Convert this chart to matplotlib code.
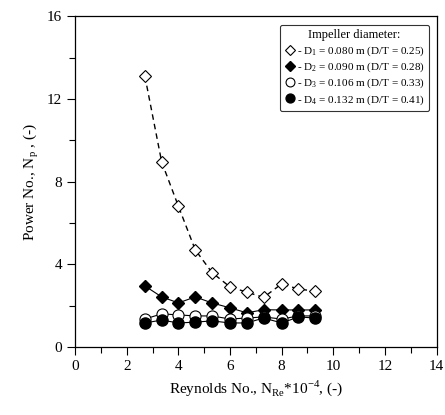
import numpy as np
import matplotlib.pyplot as plt
from matplotlib.ticker import MultipleLocator

plt.rcParams['font.family'] = ['Liberation Serif', 'DejaVu Serif']
plt.rcParams['mathtext.fontset'] = 'custom'
plt.rcParams['mathtext.rm'] = 'Liberation Serif'

# Reynolds No. * 1e-4
re_vals = [2.7, 3.35, 4.0, 4.65, 5.3, 6.0, 6.65, 7.3, 8.0, 8.65, 9.3]

np_d1 = [13.1, 8.95, 6.8, 4.7, 3.6, 2.9, 2.65, 2.4, 3.05, 2.8, 2.7]
np_d2 = [2.95, 2.42, 2.13, 2.42, 2.13, 1.89, 1.65, 1.8, 1.79, 1.79, 1.79]
np_d3 = [1.35, 1.6, 1.55, 1.5, 1.5, 1.35, 1.4, 1.45, 1.35, 1.5, 1.5]
np_d4 = [1.16, 1.3, 1.16, 1.2, 1.26, 1.16, 1.16, 1.4, 1.16, 1.45, 1.4]

labels = ['- D$_1$ = 0.080 m (D/T = 0.25)',
          '- D$_2$ = 0.090 m (D/T = 0.28)',
          '- D$_3$ = 0.106 m (D/T = 0.33)',
          '- D$_4$ = 0.132 m (D/T = 0.41)']

fig = plt.figure(figsize=(4.45, 4.15), dpi=100)
ax = fig.add_axes([0.169, 0.164, 0.812, 0.797])

ax.plot(re_vals, np_d1, ls=(0, (4, 3)), color='black', lw=1.0, marker='D', ms=6,
        mfc='white', mec='black', mew=0.8, label=labels[0])
ax.plot(re_vals, np_d2, ls='-', color='black', lw=0.8, marker='D', ms=6,
        mfc='black', mec='black', label=labels[1])
ax.plot(re_vals, np_d3, ls='-', color='black', lw=0.8, marker='o', ms=8,
        mfc='white', mec='black', mew=0.8, label=labels[2])
ax.plot(re_vals, np_d4, ls='-', color='black', lw=0.8, marker='o', ms=8,
        mfc='black', mec='black', label=labels[3])

ax.set_xlim(0, 14)
ax.set_ylim(0, 16)
ax.xaxis.set_major_locator(MultipleLocator(2))
ax.xaxis.set_minor_locator(MultipleLocator(1))
ax.yaxis.set_major_locator(MultipleLocator(4))
ax.yaxis.set_minor_locator(MultipleLocator(2))
ax.tick_params(which='major', direction='out', length=6, width=0.8, labelsize=11)
ax.tick_params(which='minor', direction='out', length=4, width=0.8)
for s in ax.spines.values():
    s.set_linewidth(0.9)

ax.set_xlabel('Reynolds No., N$_{\\mathrm{Re}}$*10$^{-4}$, (-)', fontsize=11)
ax.set_ylabel('Power No., N$_{\\mathrm{p}}$ , (-)', fontsize=11)

leg = ax.legend(loc='upper right', title='Impeller diameter:', fontsize=8,
                title_fontsize=9, frameon=True, fancybox=True,
                handletextpad=0.1, handlelength=1.0, borderpad=0.4,
                labelspacing=0.25, markerscale=0.8, bbox_to_anchor=(0.995, 0.99))
leg.get_frame().set_edgecolor('black')
leg.get_frame().set_linewidth(0.8)
for h in leg.get_lines():
    h.set_linestyle('none')

fig.savefig('out.png', dpi=100)
